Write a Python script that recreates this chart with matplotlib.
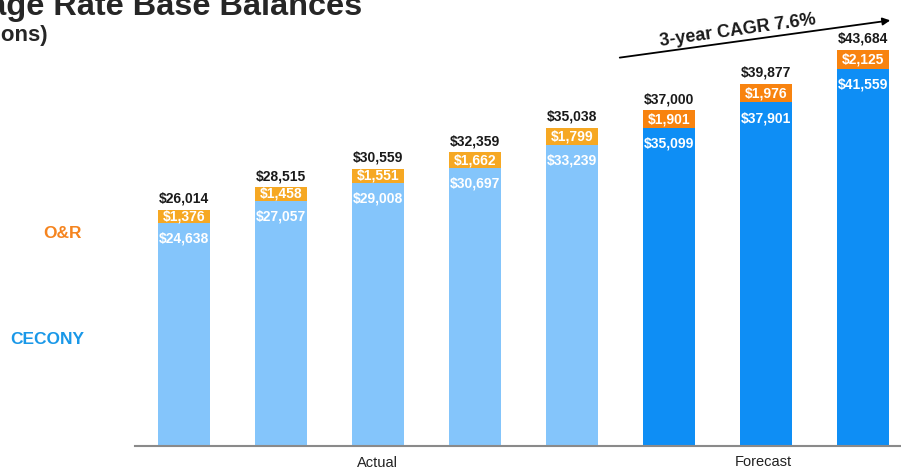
import matplotlib.pyplot as plt
import numpy as np

plt.rcParams['font.family'] = ['Liberation Sans', 'DejaVu Sans']

# Average rate base balances ($ millions)
cecony = [24638, 27057, 29008, 30697, 33239, 35099, 37901, 41559]
orr = [1376, 1458, 1551, 1662, 1799, 1901, 1976, 2125]
totals = [26014, 28515, 30559, 32359, 35038, 37000, 39877, 43684]
is_forecast = [False, False, False, False, False, True, True, True]

fig = plt.figure(figsize=(9.01, 4.70), dpi=100)
ax = fig.add_axes([135 / 901, 24 / 470, 766 / 901, 446 / 470])

x = np.arange(len(cecony))
w = 0.54
blue_cols = ['#0E8EF5' if f else '#84C5FB' for f in is_forecast]
orange_cols = ['#F8830F' if f else '#F6A823' for f in is_forecast]

ax.bar(x, cecony, w, color=blue_cols, zorder=2)
ax.bar(x, orr, w, bottom=cecony, color=orange_cols, zorder=2)

for i in range(len(x)):
    ax.text(x[i], totals[i] + 1250, f'${totals[i]:,}', ha='center', va='center',
            fontsize=10, fontweight='bold', color='#1a1a1a')
    ax.text(x[i], cecony[i] + orr[i] / 2, f'${orr[i]:,}', ha='center', va='center',
            fontsize=10, fontweight='bold', color='white')
    ax.text(x[i], cecony[i] - 1750, f'${cecony[i]:,}', ha='center', va='center',
            fontsize=10, fontweight='bold', color='white')

ax.set_xlim(-0.505, 7.39)
ax.set_ylim(0, 49170)
for s in ['top', 'right', 'left']:
    ax.spines[s].set_visible(False)
ax.spines['bottom'].set_color('#8a8a8a')
ax.spines['bottom'].set_linewidth(1.5)
ax.set_xticks([])
ax.set_yticks([])

# group labels under the axis
fig.text(377 / 901, 1 - 463 / 470, 'Actual', ha='center', va='center', fontsize=10.5, color='#222222')
fig.text(763 / 901, 1 - 462 / 470, 'Forecast', ha='center', va='center', fontsize=10.5, color='#222222')

# series labels on the left
fig.text(63 / 901, 1 - 233 / 470, 'O&R', ha='center', va='center', fontsize=12.5,
         fontweight='bold', color='#F5841F')
fig.text(47 / 901, 1 - 340 / 470, 'CECONY', ha='center', va='center', fontsize=12.5,
         fontweight='bold', color='#1A98E8')

# title (cut off at the left edge as in the slide)
fig.text(362 / 901, 1 - 7 / 470, 'Average Rate Base Balances', ha='right', va='center',
         fontsize=23.4, fontweight='bold', color='#262626')
fig.text(48 / 901, 1 - 36 / 470, '($ in millions)', ha='right', va='center',
         fontsize=16, fontweight='bold', color='#262626')

# CAGR arrow
fig.add_artist(plt.matplotlib.patches.FancyArrowPatch(
    (617 / 901, 1 - 58 / 470), (893 / 901, 1 - 20 / 470), transform=fig.transFigure,
    arrowstyle='-|>', mutation_scale=11, color='black', lw=1.3))
fig.text(738 / 901, 1 - 31 / 470, '3-year CAGR 7.6%', ha='center', va='center', fontsize=13,
         fontweight='bold', color='#1a1a1a', rotation=8)

fig.savefig('out.png', dpi=100)
